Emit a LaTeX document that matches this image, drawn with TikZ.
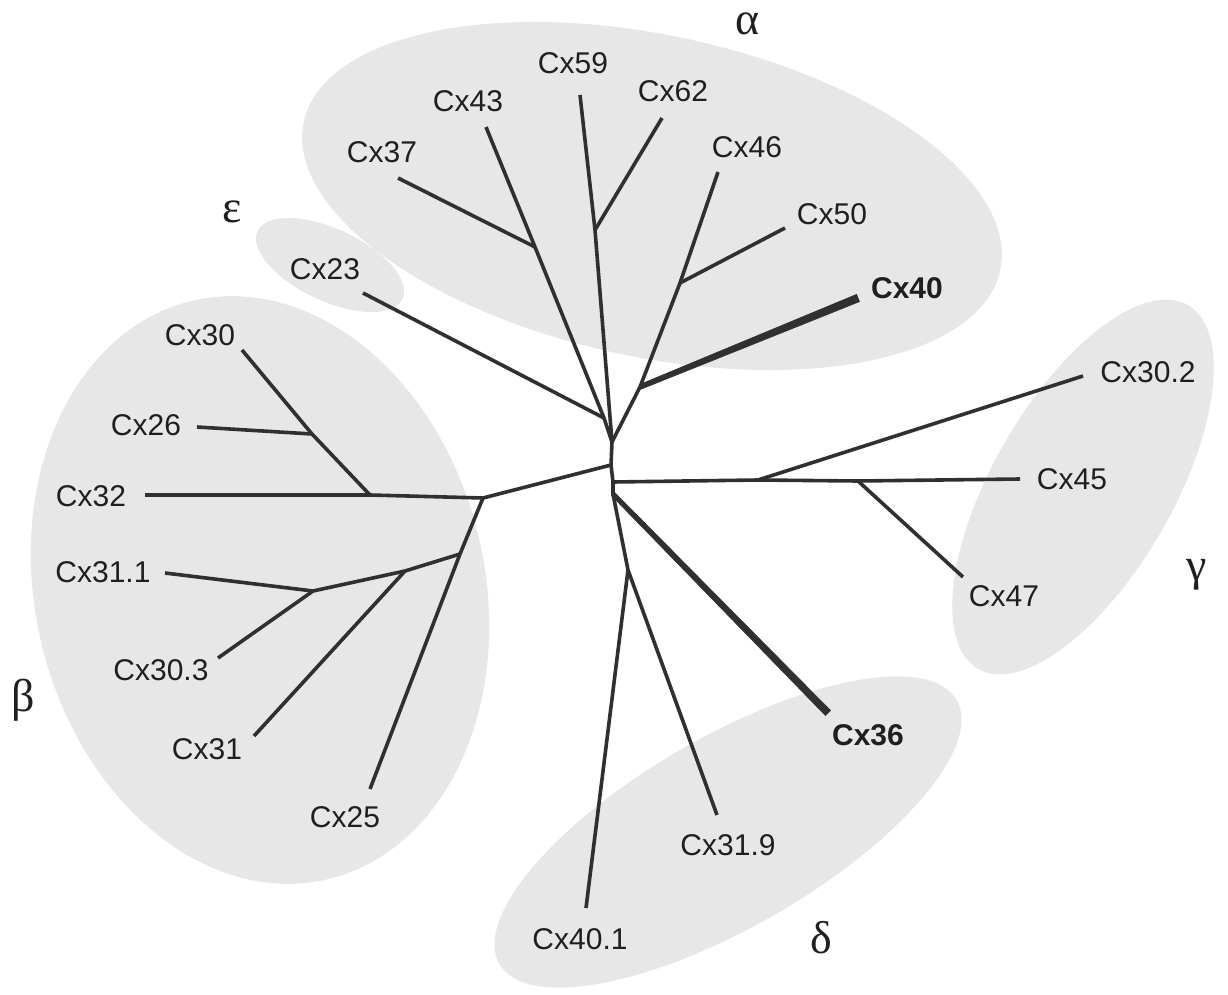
\documentclass[tikz,border=0pt]{standalone}
\usepackage{fontspec}
\setmainfont{Liberation Sans}
\newfontfamily\grkfont{Liberation Serif}
\usetikzlibrary{shapes.geometric,calc}
\definecolor{clade}{gray}{0.905}
\definecolor{branch}{gray}{0.19}
\definecolor{labelc}{gray}{0.12}
\tikzset{
  cladebg/.style={ellipse, fill=clade, draw=none, inner sep=0pt},
  br/.style={draw=branch, line width=3.6pt, line join=round},
  thickbr/.style={fill=branch, draw=branch, line width=0.6pt},
  lab/.style={text=labelc, inner sep=0pt, font=\fontsize{30}{36}\selectfont},
  blab/.style={lab, font=\fontsize{30}{36}\selectfont\bfseries},
  grk/.style={text=labelc, inner sep=0pt, font=\fontsize{46}{50}\selectfont\grkfont}
}
\begin{document}
\begin{tikzpicture}[x=1pt, y=-1pt]
\useasboundingbox (0,0) rectangle (1228,995);
% clade backgrounds
\node[cladebg, minimum width=712pt, minimum height=322pt, rotate=-12] (ealpha) at (652,196) {};
\node[cladebg, minimum width=160pt, minimum height=72pt, rotate=-25] (eeps) at (330,265) {};
\node[cladebg, minimum width=450pt, minimum height=594pt, rotate=13] (ebeta) at (260,590) {};
\node[cladebg, minimum width=420pt, minimum height=180pt, rotate=60] (egamma) at (1083,487) {};
\node[cladebg, minimum width=528pt, minimum height=190pt, rotate=30] (edelta) at (728,832) {};
% internal points
\coordinate (A) at (612,442);
\coordinate (B) at (611,465);
\coordinate (C) at (613,482);
\coordinate (D) at (613,494);
\coordinate (F) at (628,570);
\coordinate (n23) at (604,418);
\coordinate (n37) at (535,247);
\coordinate (n62) at (595,230);
\coordinate (n40) at (640,387);
\coordinate (n50) at (680,283);
\coordinate (bA) at (483,498);
\coordinate (b30) at (370,495);
\coordinate (b26) at (312,434);
\coordinate (b25) at (460,554);
\coordinate (b31) at (405,571);
\coordinate (b311) at (313,591);
\coordinate (g1) at (758,480);
\coordinate (g2) at (858,481);
% leaf ends
\coordinate (l23) at (363,293);
\coordinate (l37) at (398,178);
\coordinate (l43) at (486,127);
\coordinate (l59) at (580,95);
\coordinate (l62) at (662,118);
\coordinate (l46) at (718,172);
\coordinate (l50) at (785,228);
\coordinate (l40) at (858,298);
\coordinate (l302) at (1083,376);
\coordinate (l45) at (1020,479);
\coordinate (l47) at (963,577);
\coordinate (l36) at (828,713);
\coordinate (l319) at (717,815);
\coordinate (l401) at (586,908);
\coordinate (l25) at (370,789);
\coordinate (l31) at (254,736);
\coordinate (l303) at (218,658);
\coordinate (l311) at (165,573);
\coordinate (l32) at (145,495);
\coordinate (l26) at (197,427);
\coordinate (l30) at (242,350);
% branches
\draw[br] (l43) -- (n37) -- (n23) -- (A);
\draw[br] (l37) -- (n37);
\draw[br] (l23) -- (n23);
\draw[br] (l59) -- (n62) -- (A);
\draw[br] (l62) -- (n62);
\draw[br] (l46) -- (n50) -- (n40) -- (A);
\draw[br] (l50) -- (n50);
\draw[br] (A) -- (B) -- (C) -- (D) -- (F);
\draw[br] (F) -- (l319);
\draw[br] (F) -- (l401);
\draw[br] (B) -- (bA) -- (b30) -- (l32);
\draw[br] (b30) -- (b26) -- (l30);
\draw[br] (b26) -- (l26);
\draw[br] (bA) -- (b25) -- (l25);
\draw[br] (b25) -- (b31) -- (b311) -- (l311);
\draw[br] (b31) -- (l31);
\draw[br] (b311) -- (l303);
\draw[br] (C) -- (g1) -- (g2) -- (l45);
\draw[br] (g1) -- (l302);
\draw[br] (g2) -- (l47);
% tapered thick branches (Cx40, Cx36)
\path[thickbr] ($(n40)!2.4pt!90:(l40)$) -- ($(l40)!3.9pt!-90:(n40)$) -- ($(l40)!3.9pt!90:(n40)$) -- ($(n40)!2.4pt!-90:(l40)$) -- cycle;
\path[thickbr] ($(D)!2.2pt!90:(l36)$) -- ($(l36)!3.6pt!-90:(D)$) -- ($(l36)!3.6pt!90:(D)$) -- ($(D)!2.2pt!-90:(l36)$) -- cycle;
% labels
\node[lab] (t59) at (573,63) {Cx59};
\node[lab] (t43) at (468,101) {Cx43};
\node[lab] (t62) at (673,91) {Cx62};
\node[lab] (t37) at (382,152) {Cx37};
\node[lab] (t46) at (747,147) {Cx46};
\node[lab] (t50) at (832,214) {Cx50};
\node[blab] (t40) at (907,288) {Cx40};
\node[lab] (t23) at (325,269) {Cx23};
\node[lab] (t30) at (200,335) {Cx30};
\node[lab] (t26) at (146,425) {Cx26};
\node[lab] (t32) at (91,496) {Cx32};
\node[lab] (t311) at (103,572) {Cx31.1};
\node[lab] (t303) at (161,670) {Cx30.3};
\node[lab] (t31) at (207,749) {Cx31};
\node[lab] (t25) at (345,817) {Cx25};
\node[lab] (t302) at (1148,372) {Cx30.2};
\node[lab] (t45) at (1072,479) {Cx45};
\node[lab] (t47) at (1004,596) {Cx47};
\node[blab] (t36) at (868,735) {Cx36};
\node[lab] (t319) at (728,845) {Cx31.9};
\node[lab] (t401) at (580,939) {Cx40.1};
% clade names
\node[grk] (galpha) at (748,24) {α};
\node[grk] (geps) at (232,212) {ε};
\node[grk] (gbeta) at (23,700) {β};
\node[grk] (ggamma) at (1197,575) {γ};
\node[grk] (gdelta) at (821,938) {δ};
\end{tikzpicture}
\end{document}
